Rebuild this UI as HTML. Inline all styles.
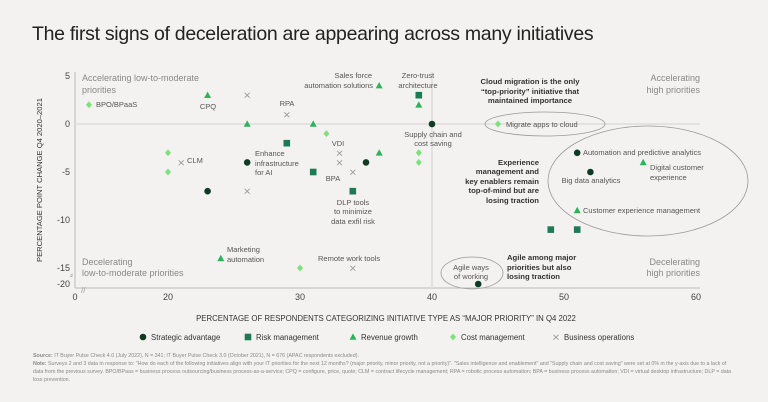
<!DOCTYPE html>
<html><head><meta charset="utf-8"><style>
body{margin:0;background:#f3f2f0;font-family:"Liberation Sans",sans-serif;}
#wrap{position:relative;width:768px;height:402px;overflow:hidden;background:#f3f2f0}
h1{position:absolute;left:32px;top:23px;margin:0;font-size:19.5px;font-weight:normal;color:#222;letter-spacing:-0.3px}
.note{position:absolute;left:33px;font-size:5.3px;color:#888;line-height:8px;width:700px}
</style></head><body>
<div id="wrap">
<h1>The first signs of deceleration are appearing across many initiatives</h1>
<svg id="chart" width="768" height="402" style="position:absolute;left:0;top:0"></svg>
<div class="note" style="top:352px"><b>Source:</b> IT Buyer Pulse Check 4.0 (July 2022), N = 341; IT Buyer Pulse Check 3.0 (October 2021), N = 676 (APAC respondents excluded).</div>
<div class="note" style="top:360px"><b>Note:</b> Surveys 2 and 3 data in response to: "How do each of the following initiatives align with your IT priorities for the next 12 months? (major priority, minor priority, not a priority)". "Sales intelligence and enablement" and "Supply chain and cost saving" were set at 0% in the y-axis due to a lack of data from the previous survey. BPO/BPaas = business process outsourcing/business process-as-a-service; CPQ = configure, price, quote; CLM = contract lifecycle management; RPA = robotic process automation; BPA = business process automation; VDI = virtual desktop infrastructure; DLP = data loss prevention.</div>
</div>
<script>
const xs=[3,23,26,29,26,31,32,29,20,20,21,26,31,33,33,34,35,36,23,26,34,24,30,34,36,39,39,40,39,39,45,51,52,56,51,49,51,43.5];
const ys=[2,3,3,1,0,0,-1,-2,-3,-5,-4,-4,-5,-3,-4,-5,-4,-3,-7,-7,-7,-14,-15,-15,4,3,2,0,-3,-4,0,-3,-5,-4,-9,-11,-11,-20];
const cats=["cost","rev","ops","ops","rev","rev","cost","risk","cost","cost","ops","strat","risk","ops","ops","ops","strat","rev","strat","ops","risk","rev","cost","ops","rev","risk","rev","strat","cost","cost","cost","strat","strat","rev","rev","risk","risk","strat"];
const xTicks=[0,20,30,40,50,60];
const yTicks=[5,0,-5,-10,-15,-20];
const legendNames=["Strategic advantage","Risk management","Revenue growth","Cost management","Business operations"];
const legendCats=["strat","risk","rev","cost","ops"];
const colors={strat:"#0f3a23",risk:"#1e7a55",rev:"#2fb35a",cost:"#7ee27c",ops:"#999"};
function X(v){return v<20?75+v*93/20:168+(v-20)*13.2;}
function Y(v){return v<=-17?284:124-v*9.6;}
const svg=document.getElementById('chart');const NS="http://www.w3.org/2000/svg";
function mk(t,a,txt){const e=document.createElementNS(NS,t);for(const k in a)e.setAttribute(k,a[k]);if(txt!==undefined)e.textContent=txt;svg.appendChild(e);return e;}
let e;
e=mk('line',{x1:75,y1:72,x2:75,y2:288,stroke:'#bbb','stroke-width':1});


e=mk('line',{x1:75,y1:288,x2:700,y2:288,stroke:'#bbb','stroke-width':1});


e=mk('line',{x1:75,y1:Y(0),x2:700,y2:Y(0),stroke:'#ddd','stroke-width':1.5});


e=mk('line',{x1:X(40),y1:72,x2:X(40),y2:288,stroke:'#ddd','stroke-width':1.5});


mk('text',{x:70,y:278,'font-size':9,fill:'#999'},'⸗');
mk('text',{x:81,y:293,'font-size':8,fill:'#999'},'//');
xTicks.forEach(t=>{e=mk('text',{x:X(t),y:300,'font-size':9,fill:'#444','text-anchor':'middle'},t);

});
yTicks.forEach(t=>{e=mk('text',{x:70,y:Y(t)+3,'font-size':9,fill:'#444','text-anchor':'end'},t);

});
e=mk('text',{x:0,y:0,'font-size':7.6,fill:'#333','text-anchor':'middle',transform:'translate(42,180) rotate(-90)'},'PERCENTAGE POINT CHANGE Q4 2020–2021');


e=mk('text',{x:386,y:321,'font-size':7.8,fill:'#333','text-anchor':'middle'},'PERCENTAGE OF RESPONDENTS CATEGORIZING INITIATIVE TYPE AS “MAJOR PRIORITY” IN Q4 2022');


function marker(c,x,y,s){
 if(c==='strat')return mk('circle',{cx:x,cy:y,r:3.3*s,fill:colors[c]});
 if(c==='risk')return mk('rect',{x:x-3.3*s,y:y-3.3*s,width:6.6*s,height:6.6*s,fill:colors[c]});
 if(c==='rev')return mk('polygon',{points:`${x},${y-3.6*s} ${x+3.5*s},${y+2.8*s} ${x-3.5*s},${y+2.8*s}`,fill:colors[c]});
 if(c==='cost')return mk('polygon',{points:`${x},${y-3.5*s} ${x+3*s},${y} ${x},${y+3.5*s} ${x-3*s},${y}`,fill:colors[c]});
 return mk('text',{x:x,y:y+3.5,'font-size':10*s,fill:colors[c],'text-anchor':'middle'},'⨯');
}
xs.forEach((v,i)=>{const m=marker(cats[i],X(v),Y(ys[i]),1);

});
[[545,124,60,12],[648,181,100,55],[472,273,31,16]].forEach(a=>{e=mk('ellipse',{cx:a[0],cy:a[1],rx:a[2],ry:a[3],fill:'none',stroke:'#999','stroke-width':0.8});

});
const S=7.5,B=7.7,Q=9;
const labels=[
[82,81,'Accelerating low-to-moderate','start','#888',Q,0],[82,93,'priorities','start','#888',Q,0],
[96,107,'BPO/BPaaS','start','#555',S,0],[208,109,'CPQ','middle','#555',S,0],[287,106,'RPA','middle','#555',S,0],
[187,163,'CLM','start','#555',S,0],[255,156,'Enhance','start','#555',S,0],[255,166,'infrastructure','start','#555',S,0],[255,175,'for AI','start','#555',S,0],
[338,146,'VDI','middle','#555',S,0],[333,181,'BPA','middle','#555',S,0],
[353,205,'DLP tools','middle','#555',S,0],[353,214,'to minimize','middle','#555',S,0],[353,224,'data exfil risk','middle','#555',S,0],
[372,78,'Sales force','end','#555',S,0],[373,88,'automation solutions','end','#555',S,0],
[418,78,'Zero-trust','middle','#555',S,0],[418,88,'architecture','middle','#555',S,0],
[433,137,'Supply chain and','middle','#555',S,0],[433,146,'cost saving','middle','#555',S,0],
[227,252,'Marketing','start','#555',S,0],[227,262,'automation','start','#555',S,0],[318,261,'Remote work tools','start','#555',S,0],
[82,265,'Decelerating','start','#888',Q,0],[82,276,'low-to-moderate priorities','start','#888',Q,0],
[506,127,'Migrate apps to cloud','start','#555',S,0],[583,155,'Automation and predictive analytics','start','#555',S,0],
[591,183,'Big data analytics','middle','#555',S,0],[650,170,'Digital customer','start','#555',S,0],[650,180,'experience','start','#555',S,0],
[583,213,'Customer experience management','start','#555',S,0],
[471,270,'Agile ways','middle','#555',S,0],[471,279,'of working','middle','#555',S,0],
[700,81,'Accelerating','end','#888',Q,0],[700,93,'high priorities','end','#888',Q,0],
[700,265,'Decelerating','end','#888',Q,0],[700,276,'high priorities','end','#888',Q,0],
[530,84,'Cloud migration is the only','middle','#333',B,1],[530,94,'“top-priority” initiative that','middle','#333',B,1],[530,103,'maintained importance','middle','#333',B,1],
[539,165,'Experience','end','#333',B,1],[539,174,'management and','end','#333',B,1],[539,184,'key enablers remain','end','#333',B,1],[539,193,'top-of-mind but are','end','#333',B,1],[539,203,'losing traction','end','#333',B,1],
[507,260,'Agile among major','start','#333',B,1],[507,270,'priorities but also','start','#333',B,1],[507,279,'losing traction','start','#333',B,1]];
labels.forEach(l=>{e=mk('text',{x:l[0],y:l[1],'text-anchor':l[3],fill:l[4],'font-size':l[5],'font-weight':l[6]?'bold':'normal'},l[2]);

});
const lx=[143,248,353,453,556];
legendNames.forEach((n,i)=>{const m=marker(legendCats[i],lx[i],337,1);


e=mk('text',{x:lx[i]+8,y:340,'font-size':7.8,fill:'#333'},n);

});
</script>
</body></html>
